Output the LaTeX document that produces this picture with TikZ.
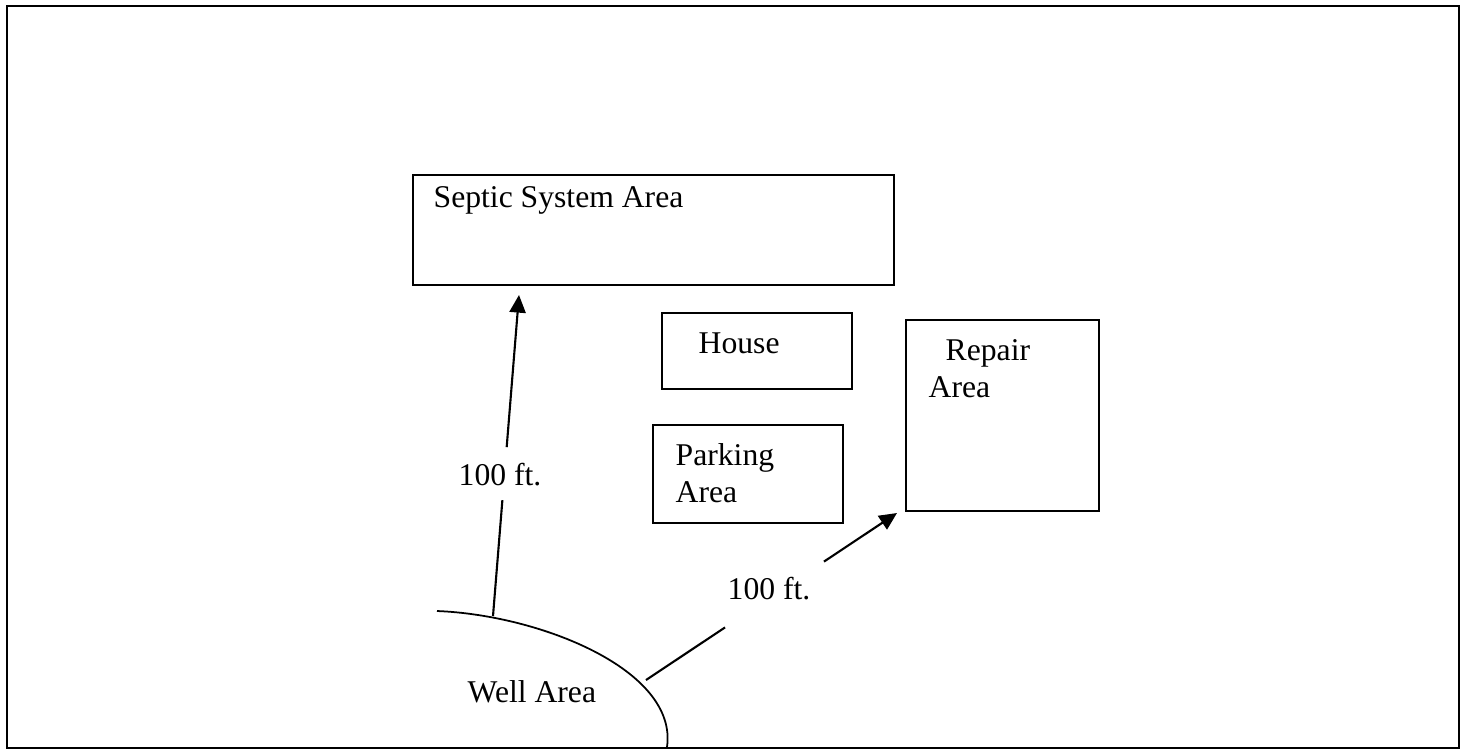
\documentclass[tikz,border=0pt]{standalone}
\usepackage{fontspec}
\setmainfont{Liberation Serif}
\usetikzlibrary{arrows.meta,calc,positioning}
\tikzset{
  area/.style={draw,line width=0.45pt,inner sep=0pt},
  lbl/.style={anchor=base west,inner sep=0pt,font=\fontsize{9}{10.5}\selectfont},
  dist/.style={line width=0.6pt},
  tip/.style={-{Triangle[length=5pt,width=4.6pt]}}
}
\begin{document}
\begin{tikzpicture}[x=0.01cm,y=0.01cm]
\useasboundingbox (0,0) rectangle (1467,750);
\draw[line width=0.6pt] (7,2) rectangle (1459,744);
% areas
\node[area,minimum width=4.81cm,minimum height=1.10cm] (septic) at (653.5,520) {};
\node[area,minimum width=1.90cm,minimum height=0.76cm] (house) at (757,399) {};
\node[area,minimum width=1.90cm,minimum height=0.98cm] (parking) at (748,276) {};
\node[area,minimum width=1.93cm,minimum height=1.91cm] (repair) at (1002.5,334.5) {};
\node[lbl] (septictxt) at (433,543) {Septic System Area};
\node[lbl] (housetxt) at (698,397) {House};
\node[lbl] (parkingtxt) at (675,285) {Parking};
\node[lbl] (parkingtxt2) at (675,248) {Area};
\node[lbl] (repairtxt) at (945,390) {Repair};
\node[lbl] (repairtxt2) at (928,353) {Area};
% well
\draw[line width=0.5pt] (437,139) .. controls (540,135) and (678,80) .. (667,3);
\node[lbl] (welltxt) at (467,48) {Well Area};
% distances
\coordinate (w1) at (493,134); \coordinate (t1) at (519,455);
\coordinate (w2) at (646,70);  \coordinate (t2) at (897,237);
\coordinate (g1a) at ($(w1)!0.361!(t1)$); \coordinate (g1b) at ($(w1)!0.526!(t1)$);
\coordinate (g2a) at ($(w2)!0.315!(t2)$); \coordinate (g2b) at ($(w2)!0.709!(t2)$);
\draw[dist] (w1) -- (g1a);
\draw[dist,tip] (g1b) -- (t1);
\draw[dist] (w2) -- (g2a);
\draw[dist,tip] (g2b) -- (t2);
\node[lbl] (dist1) at (458,265) {100 ft.};
\node[lbl] (dist2) at (727,151) {100 ft.};
\end{tikzpicture}
\end{document}
